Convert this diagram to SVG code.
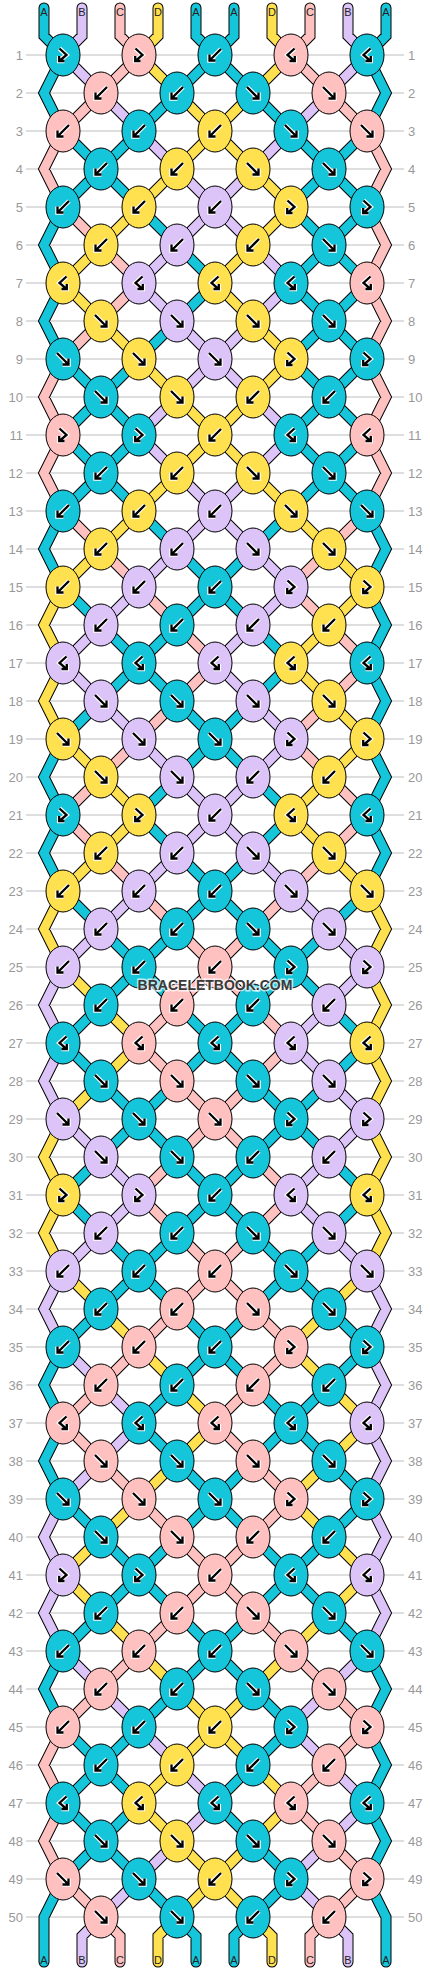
<svg xmlns="http://www.w3.org/2000/svg" xmlns:xlink="http://www.w3.org/1999/xlink" width="430" height="1972" viewBox="0 0 430 1972">
<style>
.k ellipse{stroke:#000;stroke-width:1}
.kT{fill:#15c5d9}.kP{fill:#ffc0c0}.kY{fill:#ffe150}.kL{fill:#dcc4f8}
.num{font-family:"Liberation Sans",Arial,sans-serif;font-size:13px;fill:#999}
.lab{font-family:"Liberation Sans",Arial,sans-serif;font-size:11px;fill:#222;text-anchor:middle}
.wm{font-family:"Liberation Sans",Arial,sans-serif;font-size:14px;font-weight:bold;fill:#3a3a3a;text-anchor:middle;stroke:#fff;stroke-width:3;stroke-opacity:0.7;paint-order:stroke}
</style>
<defs>
<g id="F" fill="none" stroke-linejoin="miter"><path d="M-6 -6L4.5 4.5M5.5 -0.5V5.5H-0.5" stroke="#fff" stroke-width="4.5"/><path d="M-6 -6L4.5 4.5M5.5 -0.5V5.5H-0.5" stroke="#000" stroke-width="2.3"/></g>
<g id="B" fill="none" stroke-linejoin="miter"><path d="M6 -6L-4.5 4.5M-5.5 -0.5V5.5H0.5" stroke="#fff" stroke-width="4.5"/><path d="M6 -6L-4.5 4.5M-5.5 -0.5V5.5H0.5" stroke="#000" stroke-width="2.3"/></g>
<g id="FB" fill="none" stroke-linejoin="miter"><path d="M-3.5 -6.5L3.5 0L-3 5.5M-3.8 1V6H1.5" stroke="#fff" stroke-width="4.5"/><path d="M-3.5 -6.5L3.5 0L-3 5.5M-3.8 1V6H1.5" stroke="#000" stroke-width="2.3"/></g>
<g id="BF" fill="none" stroke-linejoin="miter"><path d="M3.5 -6.5L-3.5 0L3 5.5M3.8 1V6H-1.5" stroke="#fff" stroke-width="4.5"/><path d="M3.5 -6.5L-3.5 0L3 5.5M3.8 1V6H-1.5" stroke="#000" stroke-width="2.3"/></g>
<path id="sT" d="M44 8V36L63 55M196 8V36L215 55M234 8V36L215 55M386 8V36L367 55M63 1879L44 1917V1962M177 1917L196 1936V1962M253 1917L234 1936V1962M367 1879L386 1917V1962
M63 55l-19 38l19 38M63 207l-19 38l19 38M63 283l-19 38l19 38M63 511l-19 38l19 38M63 739l-19 38l19 38M63 815l-19 38l19 38M63 1347l-19 38l19 38M63 1423l-19 38l19 38M63 1651l-19 38l19 38
M367 55l19 38l-19 38M367 511l19 38l-19 38M367 587l19 38l-19 38M367 663l19 38l-19 38M367 739l19 38l-19 38M367 815l19 38l-19 38M367 1651l19 38l-19 38M367 1727l19 38l-19 38M367 1803l19 38l-19 38
M215 55l-38 38M215 55l38 38
M177 93l-38 38M253 93l38 38
M63 131l38 38M139 131l-38 38M291 131l38 38M367 131l-38 38
M101 169l-38 38M101 169l38 38M329 169l-38 38M329 169l38 38
M139 207l38 38M291 207l38 38M367 207l-38 38
M177 245l38 38M329 245l-38 38M329 245l38 38
M215 283l-38 38M291 283l38 38M367 283l-38 38
M177 321l-38 38M329 321l-38 38M329 321l38 38
M63 359l38 38M139 359l-38 38M291 359l38 38M367 359l-38 38
M101 397l-38 38M101 397l38 38M329 397l-38 38M329 397l38 38
M63 435l38 38M139 435l-38 38M291 435l38 38M367 435l-38 38
M101 473l-38 38M101 473l38 38M329 473l-38 38M329 473l38 38
M139 511l38 38M291 511l-38 38
M177 549l38 38M253 549l-38 38
M63 587l38 38M215 587l-38 38M215 587l38 38
M101 625l38 38M177 625l-38 38M253 625l38 38
M139 663l-38 38M139 663l38 38M291 663l-38 38
M101 701l-38 38M177 701l38 38M253 701l-38 38
M215 739l-38 38M215 739l38 38
M177 777l-38 38M253 777l38 38
M139 815l38 38M291 815l-38 38
M177 853l38 38M253 853l-38 38
M63 891l38 38M215 891l-38 38M215 891l38 38M367 891l-38 38
M101 929l38 38M177 929l-38 38M253 929l38 38M329 929l-38 38
M139 967l-38 38M139 967l38 38M291 967l-38 38M291 967l38 38
M101 1005l-38 38M177 1005l38 38M253 1005l-38 38M329 1005l38 38
M63 1043l38 38M215 1043l-38 38M215 1043l38 38M367 1043l-38 38
M101 1081l38 38M177 1081l-38 38M253 1081l38 38M329 1081l-38 38
M139 1119l-38 38M139 1119l38 38M291 1119l-38 38M291 1119l38 38
M101 1157l-38 38M177 1157l38 38M253 1157l-38 38M329 1157l38 38
M63 1195l38 38M215 1195l-38 38M215 1195l38 38M367 1195l-38 38
M101 1233l38 38M177 1233l-38 38M253 1233l38 38M329 1233l-38 38
M139 1271l-38 38M139 1271l38 38M291 1271l-38 38M291 1271l38 38
M101 1309l-38 38M177 1309l38 38M253 1309l-38 38M329 1309l38 38
M215 1347l-38 38M215 1347l38 38M367 1347l-38 38
M177 1385l-38 38M253 1385l38 38M329 1385l-38 38
M139 1423l38 38M291 1423l-38 38M291 1423l38 38
M177 1461l38 38M253 1461l-38 38M329 1461l38 38
M63 1499l38 38M215 1499l-38 38M215 1499l38 38M367 1499l-38 38
M101 1537l38 38M177 1537l-38 38M253 1537l38 38M329 1537l-38 38
M139 1575l-38 38M139 1575l38 38M291 1575l-38 38M291 1575l38 38
M101 1613l-38 38M177 1613l38 38M253 1613l-38 38M329 1613l38 38
M215 1651l-38 38M215 1651l38 38
M177 1689l-38 38M253 1689l38 38
M63 1727l38 38M139 1727l-38 38M291 1727l-38 38
M101 1765l-38 38M101 1765l38 38M253 1765l-38 38
M63 1803l38 38M139 1803l-38 38M215 1803l38 38
M101 1841l-38 38M101 1841l38 38M253 1841l38 38
M139 1879l38 38M291 1879l-38 38"/>
<path id="sP" d="M120 8V36L139 55M310 8V36L291 55M101 1917L120 1936V1962M329 1917L310 1936V1962
M63 131l-19 38l19 38M63 359l-19 38l19 38M63 435l-19 38l19 38M63 1727l-19 38l19 38M63 1803l-19 38l19 38
M367 131l19 38l-19 38M367 207l19 38l-19 38M367 283l19 38l-19 38M367 359l19 38l-19 38M367 435l19 38l-19 38
M139 55l-38 38M291 55l38 38
M101 93l-38 38M329 93l38 38
M63 207l38 38
M101 245l38 38
M139 283l-38 38
M101 321l-38 38
M63 511l38 38M367 511l-38 38
M101 549l38 38M329 549l-38 38
M139 587l38 38M291 587l38 38
M177 625l38 38M329 625l38 38
M215 663l-38 38M367 663l-38 38
M177 701l-38 38M329 701l-38 38
M139 739l-38 38M291 739l38 38
M101 777l-38 38M329 777l38 38
M63 815l38 38M367 815l-38 38
M101 853l38 38M329 853l-38 38
M139 891l38 38M291 891l-38 38
M177 929l38 38M253 929l-38 38
M215 967l-38 38M215 967l38 38
M177 1005l-38 38M253 1005l38 38
M139 1043l38 38M291 1043l-38 38
M177 1081l38 38M253 1081l-38 38
M215 1119l-38 38M215 1119l38 38
M177 1157l-38 38M253 1157l38 38
M139 1195l38 38M291 1195l-38 38
M177 1233l38 38M253 1233l-38 38
M215 1271l-38 38M215 1271l38 38
M177 1309l-38 38M253 1309l38 38
M139 1347l-38 38M291 1347l-38 38
M101 1385l-38 38M253 1385l-38 38
M63 1423l38 38M215 1423l38 38
M101 1461l38 38M253 1461l38 38
M139 1499l38 38M291 1499l-38 38
M177 1537l38 38M253 1537l-38 38
M215 1575l-38 38M215 1575l38 38
M177 1613l-38 38M253 1613l38 38
M139 1651l-38 38M291 1651l38 38
M101 1689l-38 38M329 1689l38 38
M367 1727l-38 38
M329 1765l-38 38
M291 1803l38 38
M329 1841l38 38
M63 1879l38 38M367 1879l-38 38"/>
<path id="sY" d="M158 8V36L139 55M272 8V36L291 55M177 1917L158 1936V1962M253 1917L272 1936V1962
M63 587l-19 38l19 38M63 663l-19 38l19 38M63 891l-19 38l19 38M63 1119l-19 38l19 38M63 1195l-19 38l19 38
M367 891l19 38l-19 38M367 967l19 38l-19 38M367 1043l19 38l-19 38M367 1119l19 38l-19 38M367 1195l19 38l-19 38
M139 55l38 38M291 55l-38 38
M177 93l38 38M253 93l-38 38
M215 131l-38 38M215 131l38 38
M177 169l-38 38M253 169l38 38
M139 207l-38 38M291 207l-38 38
M101 245l-38 38M253 245l-38 38
M63 283l38 38M215 283l38 38
M101 321l38 38M253 321l38 38
M139 359l38 38M291 359l-38 38
M177 397l38 38M253 397l-38 38
M215 435l-38 38M215 435l38 38
M177 473l-38 38M253 473l38 38
M139 511l-38 38M291 511l38 38
M101 549l-38 38M329 549l38 38
M367 587l-38 38
M329 625l-38 38
M291 663l38 38
M329 701l38 38
M63 739l38 38M367 739l-38 38
M101 777l38 38M329 777l-38 38
M139 815l-38 38M291 815l38 38
M101 853l-38 38M329 853l38 38
M63 967l38 38
M101 1005l38 38
M139 1043l-38 38
M101 1081l-38 38
M63 1271l38 38M367 1271l-38 38
M101 1309l38 38M329 1309l-38 38
M139 1347l38 38M291 1347l38 38
M177 1385l38 38M329 1385l38 38
M215 1423l-38 38M367 1423l-38 38
M177 1461l-38 38M329 1461l-38 38
M139 1499l-38 38M291 1499l38 38
M101 1537l-38 38M329 1537l38 38
M63 1575l38 38M367 1575l-38 38
M101 1613l38 38M329 1613l-38 38
M139 1651l38 38M291 1651l-38 38
M177 1689l38 38M253 1689l-38 38
M215 1727l-38 38M215 1727l38 38
M177 1765l-38 38M253 1765l38 38
M139 1803l38 38M291 1803l-38 38
M177 1841l38 38M253 1841l-38 38
M215 1879l-38 38M215 1879l38 38"/>
<path id="sL" d="M82 8V36L63 55M348 8V36L367 55M101 1917L82 1936V1962M329 1917L348 1936V1962
M63 967l-19 38l19 38M63 1043l-19 38l19 38M63 1271l-19 38l19 38M63 1499l-19 38l19 38M63 1575l-19 38l19 38
M367 1271l19 38l-19 38M367 1347l19 38l-19 38M367 1423l19 38l-19 38M367 1499l19 38l-19 38M367 1575l19 38l-19 38
M63 55l38 38M367 55l-38 38
M101 93l38 38M329 93l-38 38
M139 131l38 38M291 131l-38 38
M177 169l38 38M253 169l-38 38
M215 207l-38 38M215 207l38 38
M177 245l-38 38M253 245l38 38
M139 283l38 38M291 283l-38 38
M177 321l38 38M253 321l-38 38
M215 359l-38 38M215 359l38 38
M177 397l-38 38M253 397l38 38
M139 435l38 38M291 435l-38 38
M177 473l38 38M253 473l-38 38
M215 511l-38 38M215 511l38 38
M177 549l-38 38M253 549l38 38
M139 587l-38 38M291 587l-38 38
M101 625l-38 38M253 625l-38 38
M63 663l38 38M215 663l38 38
M101 701l38 38M253 701l38 38
M139 739l38 38M291 739l-38 38
M177 777l38 38M253 777l-38 38
M215 815l-38 38M215 815l38 38
M177 853l-38 38M253 853l38 38
M139 891l-38 38M291 891l38 38
M101 929l-38 38M329 929l38 38
M367 967l-38 38
M329 1005l-38 38
M291 1043l38 38
M329 1081l38 38
M63 1119l38 38M367 1119l-38 38
M101 1157l38 38M329 1157l-38 38
M139 1195l-38 38M291 1195l38 38
M101 1233l-38 38M329 1233l38 38
M63 1347l38 38
M101 1385l38 38
M139 1423l-38 38
M101 1461l-38 38
M63 1651l38 38M367 1651l-38 38
M101 1689l38 38M329 1689l-38 38
M139 1727l38 38M291 1727l38 38
M177 1765l38 38M329 1765l38 38
M215 1803l-38 38M367 1803l-38 38
M177 1841l-38 38M329 1841l-38 38
M139 1879l-38 38M291 1879l38 38"/>
</defs>
<rect width="430" height="1972" fill="#fff"/>
<g id="rows">
<path fill="none" stroke="#bdbdbd" stroke-width="1.2" d="M26 55H404M26 93H404M26 131H404M26 169H404M26 207H404M26 245H404M26 283H404M26 321H404M26 359H404M26 397H404M26 435H404M26 473H404M26 511H404M26 549H404M26 587H404M26 625H404M26 663H404M26 701H404M26 739H404M26 777H404M26 815H404M26 853H404M26 891H404M26 929H404M26 967H404M26 1005H404M26 1043H404M26 1081H404M26 1119H404M26 1157H404M26 1195H404M26 1233H404M26 1271H404M26 1309H404M26 1347H404M26 1385H404M26 1423H404M26 1461H404M26 1499H404M26 1537H404M26 1575H404M26 1613H404M26 1651H404M26 1689H404M26 1727H404M26 1765H404M26 1803H404M26 1841H404M26 1879H404M26 1917H404"/>
<g class="num" text-anchor="end">
<text x="23" y="60">1</text><text x="23" y="98">2</text><text x="23" y="136">3</text><text x="23" y="174">4</text><text x="23" y="212">5</text><text x="23" y="250">6</text><text x="23" y="288">7</text><text x="23" y="326">8</text><text x="23" y="364">9</text><text x="23" y="402">10</text><text x="23" y="440">11</text><text x="23" y="478">12</text><text x="23" y="516">13</text><text x="23" y="554">14</text><text x="23" y="592">15</text><text x="23" y="630">16</text><text x="23" y="668">17</text><text x="23" y="706">18</text><text x="23" y="744">19</text><text x="23" y="782">20</text><text x="23" y="820">21</text><text x="23" y="858">22</text><text x="23" y="896">23</text><text x="23" y="934">24</text><text x="23" y="972">25</text><text x="23" y="1010">26</text><text x="23" y="1048">27</text><text x="23" y="1086">28</text><text x="23" y="1124">29</text><text x="23" y="1162">30</text><text x="23" y="1200">31</text><text x="23" y="1238">32</text><text x="23" y="1276">33</text><text x="23" y="1314">34</text><text x="23" y="1352">35</text><text x="23" y="1390">36</text><text x="23" y="1428">37</text><text x="23" y="1466">38</text><text x="23" y="1504">39</text><text x="23" y="1542">40</text><text x="23" y="1580">41</text><text x="23" y="1618">42</text><text x="23" y="1656">43</text><text x="23" y="1694">44</text><text x="23" y="1732">45</text><text x="23" y="1770">46</text><text x="23" y="1808">47</text><text x="23" y="1846">48</text><text x="23" y="1884">49</text><text x="23" y="1922">50</text>
</g>
<g class="num" text-anchor="start">
<text x="408" y="60">1</text><text x="408" y="98">2</text><text x="408" y="136">3</text><text x="408" y="174">4</text><text x="408" y="212">5</text><text x="408" y="250">6</text><text x="408" y="288">7</text><text x="408" y="326">8</text><text x="408" y="364">9</text><text x="408" y="402">10</text><text x="408" y="440">11</text><text x="408" y="478">12</text><text x="408" y="516">13</text><text x="408" y="554">14</text><text x="408" y="592">15</text><text x="408" y="630">16</text><text x="408" y="668">17</text><text x="408" y="706">18</text><text x="408" y="744">19</text><text x="408" y="782">20</text><text x="408" y="820">21</text><text x="408" y="858">22</text><text x="408" y="896">23</text><text x="408" y="934">24</text><text x="408" y="972">25</text><text x="408" y="1010">26</text><text x="408" y="1048">27</text><text x="408" y="1086">28</text><text x="408" y="1124">29</text><text x="408" y="1162">30</text><text x="408" y="1200">31</text><text x="408" y="1238">32</text><text x="408" y="1276">33</text><text x="408" y="1314">34</text><text x="408" y="1352">35</text><text x="408" y="1390">36</text><text x="408" y="1428">37</text><text x="408" y="1466">38</text><text x="408" y="1504">39</text><text x="408" y="1542">40</text><text x="408" y="1580">41</text><text x="408" y="1618">42</text><text x="408" y="1656">43</text><text x="408" y="1694">44</text><text x="408" y="1732">45</text><text x="408" y="1770">46</text><text x="408" y="1808">47</text><text x="408" y="1846">48</text><text x="408" y="1884">49</text><text x="408" y="1922">50</text>
</g>
</g>
<g id="connectors" fill="none" stroke-linecap="round" stroke-linejoin="miter">
<use href="#sT" stroke="#000" stroke-width="11"/><use href="#sP" stroke="#000" stroke-width="11"/><use href="#sY" stroke="#000" stroke-width="11"/><use href="#sL" stroke="#000" stroke-width="11"/>
<use href="#sT" stroke="#15c5d9" stroke-width="9"/><use href="#sP" stroke="#ffc0c0" stroke-width="9"/><use href="#sY" stroke="#ffe150" stroke-width="9"/><use href="#sL" stroke="#dcc4f8" stroke-width="9"/>
</g>
<g id="labels" class="lab">
<text x="44" y="16">A</text><text x="82" y="16">B</text><text x="120" y="16">C</text><text x="158" y="16">D</text><text x="196" y="16">A</text><text x="234" y="16">A</text><text x="272" y="16">D</text><text x="310" y="16">C</text><text x="348" y="16">B</text><text x="386" y="16">A</text>
<text x="44" y="1964">A</text><text x="82" y="1964">B</text><text x="120" y="1964">C</text><text x="158" y="1964">D</text><text x="196" y="1964">A</text><text x="234" y="1964">A</text><text x="272" y="1964">D</text><text x="310" y="1964">C</text><text x="348" y="1964">B</text><text x="386" y="1964">A</text>
</g>
<g id="knots">
<g id="k1-1" class="k kT" transform="translate(63 55)"><ellipse rx="17" ry="21"/><use href="#FB"/></g>
<g id="k1-2" class="k kP" transform="translate(139 55)"><ellipse rx="17" ry="21"/><use href="#FB"/></g>
<g id="k1-3" class="k kT" transform="translate(215 55)"><ellipse rx="17" ry="21"/><use href="#B"/></g>
<g id="k1-4" class="k kP" transform="translate(291 55)"><ellipse rx="17" ry="21"/><use href="#BF"/></g>
<g id="k1-5" class="k kT" transform="translate(367 55)"><ellipse rx="17" ry="21"/><use href="#BF"/></g>
<g id="k2-1" class="k kP" transform="translate(101 93)"><ellipse rx="17" ry="21"/><use href="#B"/></g>
<g id="k2-2" class="k kT" transform="translate(177 93)"><ellipse rx="17" ry="21"/><use href="#B"/></g>
<g id="k2-3" class="k kT" transform="translate(253 93)"><ellipse rx="17" ry="21"/><use href="#F"/></g>
<g id="k2-4" class="k kP" transform="translate(329 93)"><ellipse rx="17" ry="21"/><use href="#F"/></g>
<g id="k3-1" class="k kP" transform="translate(63 131)"><ellipse rx="17" ry="21"/><use href="#B"/></g>
<g id="k3-2" class="k kT" transform="translate(139 131)"><ellipse rx="17" ry="21"/><use href="#B"/></g>
<g id="k3-3" class="k kY" transform="translate(215 131)"><ellipse rx="17" ry="21"/><use href="#B"/></g>
<g id="k3-4" class="k kT" transform="translate(291 131)"><ellipse rx="17" ry="21"/><use href="#F"/></g>
<g id="k3-5" class="k kP" transform="translate(367 131)"><ellipse rx="17" ry="21"/><use href="#F"/></g>
<g id="k4-1" class="k kT" transform="translate(101 169)"><ellipse rx="17" ry="21"/><use href="#B"/></g>
<g id="k4-2" class="k kY" transform="translate(177 169)"><ellipse rx="17" ry="21"/><use href="#B"/></g>
<g id="k4-3" class="k kY" transform="translate(253 169)"><ellipse rx="17" ry="21"/><use href="#F"/></g>
<g id="k4-4" class="k kT" transform="translate(329 169)"><ellipse rx="17" ry="21"/><use href="#F"/></g>
<g id="k5-1" class="k kT" transform="translate(63 207)"><ellipse rx="17" ry="21"/><use href="#B"/></g>
<g id="k5-2" class="k kY" transform="translate(139 207)"><ellipse rx="17" ry="21"/><use href="#B"/></g>
<g id="k5-3" class="k kL" transform="translate(215 207)"><ellipse rx="17" ry="21"/><use href="#B"/></g>
<g id="k5-4" class="k kY" transform="translate(291 207)"><ellipse rx="17" ry="21"/><use href="#FB"/></g>
<g id="k5-5" class="k kT" transform="translate(367 207)"><ellipse rx="17" ry="21"/><use href="#FB"/></g>
<g id="k6-1" class="k kY" transform="translate(101 245)"><ellipse rx="17" ry="21"/><use href="#B"/></g>
<g id="k6-2" class="k kL" transform="translate(177 245)"><ellipse rx="17" ry="21"/><use href="#B"/></g>
<g id="k6-3" class="k kY" transform="translate(253 245)"><ellipse rx="17" ry="21"/><use href="#B"/></g>
<g id="k6-4" class="k kT" transform="translate(329 245)"><ellipse rx="17" ry="21"/><use href="#F"/></g>
<g id="k7-1" class="k kY" transform="translate(63 283)"><ellipse rx="17" ry="21"/><use href="#BF"/></g>
<g id="k7-2" class="k kL" transform="translate(139 283)"><ellipse rx="17" ry="21"/><use href="#BF"/></g>
<g id="k7-3" class="k kY" transform="translate(215 283)"><ellipse rx="17" ry="21"/><use href="#BF"/></g>
<g id="k7-4" class="k kT" transform="translate(291 283)"><ellipse rx="17" ry="21"/><use href="#BF"/></g>
<g id="k7-5" class="k kP" transform="translate(367 283)"><ellipse rx="17" ry="21"/><use href="#BF"/></g>
<g id="k8-1" class="k kY" transform="translate(101 321)"><ellipse rx="17" ry="21"/><use href="#F"/></g>
<g id="k8-2" class="k kL" transform="translate(177 321)"><ellipse rx="17" ry="21"/><use href="#F"/></g>
<g id="k8-3" class="k kY" transform="translate(253 321)"><ellipse rx="17" ry="21"/><use href="#F"/></g>
<g id="k8-4" class="k kT" transform="translate(329 321)"><ellipse rx="17" ry="21"/><use href="#F"/></g>
<g id="k9-1" class="k kT" transform="translate(63 359)"><ellipse rx="17" ry="21"/><use href="#F"/></g>
<g id="k9-2" class="k kY" transform="translate(139 359)"><ellipse rx="17" ry="21"/><use href="#F"/></g>
<g id="k9-3" class="k kL" transform="translate(215 359)"><ellipse rx="17" ry="21"/><use href="#F"/></g>
<g id="k9-4" class="k kY" transform="translate(291 359)"><ellipse rx="17" ry="21"/><use href="#FB"/></g>
<g id="k9-5" class="k kT" transform="translate(367 359)"><ellipse rx="17" ry="21"/><use href="#FB"/></g>
<g id="k10-1" class="k kT" transform="translate(101 397)"><ellipse rx="17" ry="21"/><use href="#F"/></g>
<g id="k10-2" class="k kY" transform="translate(177 397)"><ellipse rx="17" ry="21"/><use href="#F"/></g>
<g id="k10-3" class="k kY" transform="translate(253 397)"><ellipse rx="17" ry="21"/><use href="#B"/></g>
<g id="k10-4" class="k kT" transform="translate(329 397)"><ellipse rx="17" ry="21"/><use href="#B"/></g>
<g id="k11-1" class="k kP" transform="translate(63 435)"><ellipse rx="17" ry="21"/><use href="#FB"/></g>
<g id="k11-2" class="k kT" transform="translate(139 435)"><ellipse rx="17" ry="21"/><use href="#FB"/></g>
<g id="k11-3" class="k kY" transform="translate(215 435)"><ellipse rx="17" ry="21"/><use href="#B"/></g>
<g id="k11-4" class="k kT" transform="translate(291 435)"><ellipse rx="17" ry="21"/><use href="#BF"/></g>
<g id="k11-5" class="k kP" transform="translate(367 435)"><ellipse rx="17" ry="21"/><use href="#BF"/></g>
<g id="k12-1" class="k kT" transform="translate(101 473)"><ellipse rx="17" ry="21"/><use href="#B"/></g>
<g id="k12-2" class="k kY" transform="translate(177 473)"><ellipse rx="17" ry="21"/><use href="#B"/></g>
<g id="k12-3" class="k kY" transform="translate(253 473)"><ellipse rx="17" ry="21"/><use href="#F"/></g>
<g id="k12-4" class="k kT" transform="translate(329 473)"><ellipse rx="17" ry="21"/><use href="#F"/></g>
<g id="k13-1" class="k kT" transform="translate(63 511)"><ellipse rx="17" ry="21"/><use href="#B"/></g>
<g id="k13-2" class="k kY" transform="translate(139 511)"><ellipse rx="17" ry="21"/><use href="#B"/></g>
<g id="k13-3" class="k kL" transform="translate(215 511)"><ellipse rx="17" ry="21"/><use href="#B"/></g>
<g id="k13-4" class="k kY" transform="translate(291 511)"><ellipse rx="17" ry="21"/><use href="#F"/></g>
<g id="k13-5" class="k kT" transform="translate(367 511)"><ellipse rx="17" ry="21"/><use href="#F"/></g>
<g id="k14-1" class="k kY" transform="translate(101 549)"><ellipse rx="17" ry="21"/><use href="#B"/></g>
<g id="k14-2" class="k kL" transform="translate(177 549)"><ellipse rx="17" ry="21"/><use href="#B"/></g>
<g id="k14-3" class="k kL" transform="translate(253 549)"><ellipse rx="17" ry="21"/><use href="#F"/></g>
<g id="k14-4" class="k kY" transform="translate(329 549)"><ellipse rx="17" ry="21"/><use href="#F"/></g>
<g id="k15-1" class="k kY" transform="translate(63 587)"><ellipse rx="17" ry="21"/><use href="#B"/></g>
<g id="k15-2" class="k kL" transform="translate(139 587)"><ellipse rx="17" ry="21"/><use href="#B"/></g>
<g id="k15-3" class="k kT" transform="translate(215 587)"><ellipse rx="17" ry="21"/><use href="#B"/></g>
<g id="k15-4" class="k kL" transform="translate(291 587)"><ellipse rx="17" ry="21"/><use href="#FB"/></g>
<g id="k15-5" class="k kY" transform="translate(367 587)"><ellipse rx="17" ry="21"/><use href="#FB"/></g>
<g id="k16-1" class="k kL" transform="translate(101 625)"><ellipse rx="17" ry="21"/><use href="#B"/></g>
<g id="k16-2" class="k kT" transform="translate(177 625)"><ellipse rx="17" ry="21"/><use href="#B"/></g>
<g id="k16-3" class="k kL" transform="translate(253 625)"><ellipse rx="17" ry="21"/><use href="#B"/></g>
<g id="k16-4" class="k kY" transform="translate(329 625)"><ellipse rx="17" ry="21"/><use href="#B"/></g>
<g id="k17-1" class="k kL" transform="translate(63 663)"><ellipse rx="17" ry="21"/><use href="#BF"/></g>
<g id="k17-2" class="k kT" transform="translate(139 663)"><ellipse rx="17" ry="21"/><use href="#BF"/></g>
<g id="k17-3" class="k kL" transform="translate(215 663)"><ellipse rx="17" ry="21"/><use href="#BF"/></g>
<g id="k17-4" class="k kY" transform="translate(291 663)"><ellipse rx="17" ry="21"/><use href="#BF"/></g>
<g id="k17-5" class="k kT" transform="translate(367 663)"><ellipse rx="17" ry="21"/><use href="#BF"/></g>
<g id="k18-1" class="k kL" transform="translate(101 701)"><ellipse rx="17" ry="21"/><use href="#F"/></g>
<g id="k18-2" class="k kT" transform="translate(177 701)"><ellipse rx="17" ry="21"/><use href="#F"/></g>
<g id="k18-3" class="k kL" transform="translate(253 701)"><ellipse rx="17" ry="21"/><use href="#F"/></g>
<g id="k18-4" class="k kY" transform="translate(329 701)"><ellipse rx="17" ry="21"/><use href="#F"/></g>
<g id="k19-1" class="k kY" transform="translate(63 739)"><ellipse rx="17" ry="21"/><use href="#F"/></g>
<g id="k19-2" class="k kL" transform="translate(139 739)"><ellipse rx="17" ry="21"/><use href="#F"/></g>
<g id="k19-3" class="k kT" transform="translate(215 739)"><ellipse rx="17" ry="21"/><use href="#F"/></g>
<g id="k19-4" class="k kL" transform="translate(291 739)"><ellipse rx="17" ry="21"/><use href="#FB"/></g>
<g id="k19-5" class="k kY" transform="translate(367 739)"><ellipse rx="17" ry="21"/><use href="#FB"/></g>
<g id="k20-1" class="k kY" transform="translate(101 777)"><ellipse rx="17" ry="21"/><use href="#F"/></g>
<g id="k20-2" class="k kL" transform="translate(177 777)"><ellipse rx="17" ry="21"/><use href="#F"/></g>
<g id="k20-3" class="k kL" transform="translate(253 777)"><ellipse rx="17" ry="21"/><use href="#B"/></g>
<g id="k20-4" class="k kY" transform="translate(329 777)"><ellipse rx="17" ry="21"/><use href="#B"/></g>
<g id="k21-1" class="k kT" transform="translate(63 815)"><ellipse rx="17" ry="21"/><use href="#FB"/></g>
<g id="k21-2" class="k kY" transform="translate(139 815)"><ellipse rx="17" ry="21"/><use href="#FB"/></g>
<g id="k21-3" class="k kL" transform="translate(215 815)"><ellipse rx="17" ry="21"/><use href="#B"/></g>
<g id="k21-4" class="k kY" transform="translate(291 815)"><ellipse rx="17" ry="21"/><use href="#BF"/></g>
<g id="k21-5" class="k kT" transform="translate(367 815)"><ellipse rx="17" ry="21"/><use href="#BF"/></g>
<g id="k22-1" class="k kY" transform="translate(101 853)"><ellipse rx="17" ry="21"/><use href="#B"/></g>
<g id="k22-2" class="k kL" transform="translate(177 853)"><ellipse rx="17" ry="21"/><use href="#B"/></g>
<g id="k22-3" class="k kL" transform="translate(253 853)"><ellipse rx="17" ry="21"/><use href="#F"/></g>
<g id="k22-4" class="k kY" transform="translate(329 853)"><ellipse rx="17" ry="21"/><use href="#F"/></g>
<g id="k23-1" class="k kY" transform="translate(63 891)"><ellipse rx="17" ry="21"/><use href="#B"/></g>
<g id="k23-2" class="k kL" transform="translate(139 891)"><ellipse rx="17" ry="21"/><use href="#B"/></g>
<g id="k23-3" class="k kT" transform="translate(215 891)"><ellipse rx="17" ry="21"/><use href="#B"/></g>
<g id="k23-4" class="k kL" transform="translate(291 891)"><ellipse rx="17" ry="21"/><use href="#F"/></g>
<g id="k23-5" class="k kY" transform="translate(367 891)"><ellipse rx="17" ry="21"/><use href="#F"/></g>
<g id="k24-1" class="k kL" transform="translate(101 929)"><ellipse rx="17" ry="21"/><use href="#B"/></g>
<g id="k24-2" class="k kT" transform="translate(177 929)"><ellipse rx="17" ry="21"/><use href="#B"/></g>
<g id="k24-3" class="k kT" transform="translate(253 929)"><ellipse rx="17" ry="21"/><use href="#F"/></g>
<g id="k24-4" class="k kL" transform="translate(329 929)"><ellipse rx="17" ry="21"/><use href="#F"/></g>
<g id="k25-1" class="k kL" transform="translate(63 967)"><ellipse rx="17" ry="21"/><use href="#B"/></g>
<g id="k25-2" class="k kT" transform="translate(139 967)"><ellipse rx="17" ry="21"/><use href="#B"/></g>
<g id="k25-3" class="k kP" transform="translate(215 967)"><ellipse rx="17" ry="21"/><use href="#B"/></g>
<g id="k25-4" class="k kT" transform="translate(291 967)"><ellipse rx="17" ry="21"/><use href="#FB"/></g>
<g id="k25-5" class="k kL" transform="translate(367 967)"><ellipse rx="17" ry="21"/><use href="#FB"/></g>
<g id="k26-1" class="k kT" transform="translate(101 1005)"><ellipse rx="17" ry="21"/><use href="#B"/></g>
<g id="k26-2" class="k kP" transform="translate(177 1005)"><ellipse rx="17" ry="21"/><use href="#B"/></g>
<g id="k26-3" class="k kT" transform="translate(253 1005)"><ellipse rx="17" ry="21"/><use href="#B"/></g>
<g id="k26-4" class="k kL" transform="translate(329 1005)"><ellipse rx="17" ry="21"/><use href="#B"/></g>
<g id="k27-1" class="k kT" transform="translate(63 1043)"><ellipse rx="17" ry="21"/><use href="#BF"/></g>
<g id="k27-2" class="k kP" transform="translate(139 1043)"><ellipse rx="17" ry="21"/><use href="#BF"/></g>
<g id="k27-3" class="k kT" transform="translate(215 1043)"><ellipse rx="17" ry="21"/><use href="#BF"/></g>
<g id="k27-4" class="k kL" transform="translate(291 1043)"><ellipse rx="17" ry="21"/><use href="#BF"/></g>
<g id="k27-5" class="k kY" transform="translate(367 1043)"><ellipse rx="17" ry="21"/><use href="#BF"/></g>
<g id="k28-1" class="k kT" transform="translate(101 1081)"><ellipse rx="17" ry="21"/><use href="#F"/></g>
<g id="k28-2" class="k kP" transform="translate(177 1081)"><ellipse rx="17" ry="21"/><use href="#F"/></g>
<g id="k28-3" class="k kT" transform="translate(253 1081)"><ellipse rx="17" ry="21"/><use href="#F"/></g>
<g id="k28-4" class="k kL" transform="translate(329 1081)"><ellipse rx="17" ry="21"/><use href="#F"/></g>
<g id="k29-1" class="k kL" transform="translate(63 1119)"><ellipse rx="17" ry="21"/><use href="#F"/></g>
<g id="k29-2" class="k kT" transform="translate(139 1119)"><ellipse rx="17" ry="21"/><use href="#F"/></g>
<g id="k29-3" class="k kP" transform="translate(215 1119)"><ellipse rx="17" ry="21"/><use href="#F"/></g>
<g id="k29-4" class="k kT" transform="translate(291 1119)"><ellipse rx="17" ry="21"/><use href="#FB"/></g>
<g id="k29-5" class="k kL" transform="translate(367 1119)"><ellipse rx="17" ry="21"/><use href="#FB"/></g>
<g id="k30-1" class="k kL" transform="translate(101 1157)"><ellipse rx="17" ry="21"/><use href="#F"/></g>
<g id="k30-2" class="k kT" transform="translate(177 1157)"><ellipse rx="17" ry="21"/><use href="#F"/></g>
<g id="k30-3" class="k kT" transform="translate(253 1157)"><ellipse rx="17" ry="21"/><use href="#B"/></g>
<g id="k30-4" class="k kL" transform="translate(329 1157)"><ellipse rx="17" ry="21"/><use href="#B"/></g>
<g id="k31-1" class="k kY" transform="translate(63 1195)"><ellipse rx="17" ry="21"/><use href="#FB"/></g>
<g id="k31-2" class="k kL" transform="translate(139 1195)"><ellipse rx="17" ry="21"/><use href="#FB"/></g>
<g id="k31-3" class="k kT" transform="translate(215 1195)"><ellipse rx="17" ry="21"/><use href="#B"/></g>
<g id="k31-4" class="k kL" transform="translate(291 1195)"><ellipse rx="17" ry="21"/><use href="#BF"/></g>
<g id="k31-5" class="k kY" transform="translate(367 1195)"><ellipse rx="17" ry="21"/><use href="#BF"/></g>
<g id="k32-1" class="k kL" transform="translate(101 1233)"><ellipse rx="17" ry="21"/><use href="#B"/></g>
<g id="k32-2" class="k kT" transform="translate(177 1233)"><ellipse rx="17" ry="21"/><use href="#B"/></g>
<g id="k32-3" class="k kT" transform="translate(253 1233)"><ellipse rx="17" ry="21"/><use href="#F"/></g>
<g id="k32-4" class="k kL" transform="translate(329 1233)"><ellipse rx="17" ry="21"/><use href="#F"/></g>
<g id="k33-1" class="k kL" transform="translate(63 1271)"><ellipse rx="17" ry="21"/><use href="#B"/></g>
<g id="k33-2" class="k kT" transform="translate(139 1271)"><ellipse rx="17" ry="21"/><use href="#B"/></g>
<g id="k33-3" class="k kP" transform="translate(215 1271)"><ellipse rx="17" ry="21"/><use href="#B"/></g>
<g id="k33-4" class="k kT" transform="translate(291 1271)"><ellipse rx="17" ry="21"/><use href="#F"/></g>
<g id="k33-5" class="k kL" transform="translate(367 1271)"><ellipse rx="17" ry="21"/><use href="#F"/></g>
<g id="k34-1" class="k kT" transform="translate(101 1309)"><ellipse rx="17" ry="21"/><use href="#B"/></g>
<g id="k34-2" class="k kP" transform="translate(177 1309)"><ellipse rx="17" ry="21"/><use href="#B"/></g>
<g id="k34-3" class="k kP" transform="translate(253 1309)"><ellipse rx="17" ry="21"/><use href="#F"/></g>
<g id="k34-4" class="k kT" transform="translate(329 1309)"><ellipse rx="17" ry="21"/><use href="#F"/></g>
<g id="k35-1" class="k kT" transform="translate(63 1347)"><ellipse rx="17" ry="21"/><use href="#B"/></g>
<g id="k35-2" class="k kP" transform="translate(139 1347)"><ellipse rx="17" ry="21"/><use href="#B"/></g>
<g id="k35-3" class="k kT" transform="translate(215 1347)"><ellipse rx="17" ry="21"/><use href="#B"/></g>
<g id="k35-4" class="k kP" transform="translate(291 1347)"><ellipse rx="17" ry="21"/><use href="#FB"/></g>
<g id="k35-5" class="k kT" transform="translate(367 1347)"><ellipse rx="17" ry="21"/><use href="#FB"/></g>
<g id="k36-1" class="k kP" transform="translate(101 1385)"><ellipse rx="17" ry="21"/><use href="#B"/></g>
<g id="k36-2" class="k kT" transform="translate(177 1385)"><ellipse rx="17" ry="21"/><use href="#B"/></g>
<g id="k36-3" class="k kP" transform="translate(253 1385)"><ellipse rx="17" ry="21"/><use href="#B"/></g>
<g id="k36-4" class="k kT" transform="translate(329 1385)"><ellipse rx="17" ry="21"/><use href="#B"/></g>
<g id="k37-1" class="k kP" transform="translate(63 1423)"><ellipse rx="17" ry="21"/><use href="#BF"/></g>
<g id="k37-2" class="k kT" transform="translate(139 1423)"><ellipse rx="17" ry="21"/><use href="#BF"/></g>
<g id="k37-3" class="k kP" transform="translate(215 1423)"><ellipse rx="17" ry="21"/><use href="#BF"/></g>
<g id="k37-4" class="k kT" transform="translate(291 1423)"><ellipse rx="17" ry="21"/><use href="#BF"/></g>
<g id="k37-5" class="k kL" transform="translate(367 1423)"><ellipse rx="17" ry="21"/><use href="#BF"/></g>
<g id="k38-1" class="k kP" transform="translate(101 1461)"><ellipse rx="17" ry="21"/><use href="#F"/></g>
<g id="k38-2" class="k kT" transform="translate(177 1461)"><ellipse rx="17" ry="21"/><use href="#F"/></g>
<g id="k38-3" class="k kP" transform="translate(253 1461)"><ellipse rx="17" ry="21"/><use href="#F"/></g>
<g id="k38-4" class="k kT" transform="translate(329 1461)"><ellipse rx="17" ry="21"/><use href="#F"/></g>
<g id="k39-1" class="k kT" transform="translate(63 1499)"><ellipse rx="17" ry="21"/><use href="#F"/></g>
<g id="k39-2" class="k kP" transform="translate(139 1499)"><ellipse rx="17" ry="21"/><use href="#F"/></g>
<g id="k39-3" class="k kT" transform="translate(215 1499)"><ellipse rx="17" ry="21"/><use href="#F"/></g>
<g id="k39-4" class="k kP" transform="translate(291 1499)"><ellipse rx="17" ry="21"/><use href="#FB"/></g>
<g id="k39-5" class="k kT" transform="translate(367 1499)"><ellipse rx="17" ry="21"/><use href="#FB"/></g>
<g id="k40-1" class="k kT" transform="translate(101 1537)"><ellipse rx="17" ry="21"/><use href="#F"/></g>
<g id="k40-2" class="k kP" transform="translate(177 1537)"><ellipse rx="17" ry="21"/><use href="#F"/></g>
<g id="k40-3" class="k kP" transform="translate(253 1537)"><ellipse rx="17" ry="21"/><use href="#B"/></g>
<g id="k40-4" class="k kT" transform="translate(329 1537)"><ellipse rx="17" ry="21"/><use href="#B"/></g>
<g id="k41-1" class="k kL" transform="translate(63 1575)"><ellipse rx="17" ry="21"/><use href="#FB"/></g>
<g id="k41-2" class="k kT" transform="translate(139 1575)"><ellipse rx="17" ry="21"/><use href="#FB"/></g>
<g id="k41-3" class="k kP" transform="translate(215 1575)"><ellipse rx="17" ry="21"/><use href="#B"/></g>
<g id="k41-4" class="k kT" transform="translate(291 1575)"><ellipse rx="17" ry="21"/><use href="#BF"/></g>
<g id="k41-5" class="k kL" transform="translate(367 1575)"><ellipse rx="17" ry="21"/><use href="#BF"/></g>
<g id="k42-1" class="k kT" transform="translate(101 1613)"><ellipse rx="17" ry="21"/><use href="#B"/></g>
<g id="k42-2" class="k kP" transform="translate(177 1613)"><ellipse rx="17" ry="21"/><use href="#B"/></g>
<g id="k42-3" class="k kP" transform="translate(253 1613)"><ellipse rx="17" ry="21"/><use href="#F"/></g>
<g id="k42-4" class="k kT" transform="translate(329 1613)"><ellipse rx="17" ry="21"/><use href="#F"/></g>
<g id="k43-1" class="k kT" transform="translate(63 1651)"><ellipse rx="17" ry="21"/><use href="#B"/></g>
<g id="k43-2" class="k kP" transform="translate(139 1651)"><ellipse rx="17" ry="21"/><use href="#B"/></g>
<g id="k43-3" class="k kT" transform="translate(215 1651)"><ellipse rx="17" ry="21"/><use href="#B"/></g>
<g id="k43-4" class="k kP" transform="translate(291 1651)"><ellipse rx="17" ry="21"/><use href="#F"/></g>
<g id="k43-5" class="k kT" transform="translate(367 1651)"><ellipse rx="17" ry="21"/><use href="#F"/></g>
<g id="k44-1" class="k kP" transform="translate(101 1689)"><ellipse rx="17" ry="21"/><use href="#B"/></g>
<g id="k44-2" class="k kT" transform="translate(177 1689)"><ellipse rx="17" ry="21"/><use href="#B"/></g>
<g id="k44-3" class="k kT" transform="translate(253 1689)"><ellipse rx="17" ry="21"/><use href="#F"/></g>
<g id="k44-4" class="k kP" transform="translate(329 1689)"><ellipse rx="17" ry="21"/><use href="#F"/></g>
<g id="k45-1" class="k kP" transform="translate(63 1727)"><ellipse rx="17" ry="21"/><use href="#B"/></g>
<g id="k45-2" class="k kT" transform="translate(139 1727)"><ellipse rx="17" ry="21"/><use href="#B"/></g>
<g id="k45-3" class="k kY" transform="translate(215 1727)"><ellipse rx="17" ry="21"/><use href="#B"/></g>
<g id="k45-4" class="k kT" transform="translate(291 1727)"><ellipse rx="17" ry="21"/><use href="#FB"/></g>
<g id="k45-5" class="k kP" transform="translate(367 1727)"><ellipse rx="17" ry="21"/><use href="#FB"/></g>
<g id="k46-1" class="k kT" transform="translate(101 1765)"><ellipse rx="17" ry="21"/><use href="#B"/></g>
<g id="k46-2" class="k kY" transform="translate(177 1765)"><ellipse rx="17" ry="21"/><use href="#B"/></g>
<g id="k46-3" class="k kT" transform="translate(253 1765)"><ellipse rx="17" ry="21"/><use href="#B"/></g>
<g id="k46-4" class="k kP" transform="translate(329 1765)"><ellipse rx="17" ry="21"/><use href="#B"/></g>
<g id="k47-1" class="k kT" transform="translate(63 1803)"><ellipse rx="17" ry="21"/><use href="#BF"/></g>
<g id="k47-2" class="k kY" transform="translate(139 1803)"><ellipse rx="17" ry="21"/><use href="#BF"/></g>
<g id="k47-3" class="k kT" transform="translate(215 1803)"><ellipse rx="17" ry="21"/><use href="#BF"/></g>
<g id="k47-4" class="k kP" transform="translate(291 1803)"><ellipse rx="17" ry="21"/><use href="#BF"/></g>
<g id="k47-5" class="k kT" transform="translate(367 1803)"><ellipse rx="17" ry="21"/><use href="#BF"/></g>
<g id="k48-1" class="k kT" transform="translate(101 1841)"><ellipse rx="17" ry="21"/><use href="#F"/></g>
<g id="k48-2" class="k kY" transform="translate(177 1841)"><ellipse rx="17" ry="21"/><use href="#F"/></g>
<g id="k48-3" class="k kT" transform="translate(253 1841)"><ellipse rx="17" ry="21"/><use href="#F"/></g>
<g id="k48-4" class="k kP" transform="translate(329 1841)"><ellipse rx="17" ry="21"/><use href="#F"/></g>
<g id="k49-1" class="k kP" transform="translate(63 1879)"><ellipse rx="17" ry="21"/><use href="#F"/></g>
<g id="k49-2" class="k kT" transform="translate(139 1879)"><ellipse rx="17" ry="21"/><use href="#F"/></g>
<g id="k49-3" class="k kY" transform="translate(215 1879)"><ellipse rx="17" ry="21"/><use href="#B"/></g>
<g id="k49-4" class="k kT" transform="translate(291 1879)"><ellipse rx="17" ry="21"/><use href="#FB"/></g>
<g id="k49-5" class="k kP" transform="translate(367 1879)"><ellipse rx="17" ry="21"/><use href="#FB"/></g>
<g id="k50-1" class="k kP" transform="translate(101 1917)"><ellipse rx="17" ry="21"/><use href="#F"/></g>
<g id="k50-2" class="k kT" transform="translate(177 1917)"><ellipse rx="17" ry="21"/><use href="#F"/></g>
<g id="k50-3" class="k kT" transform="translate(253 1917)"><ellipse rx="17" ry="21"/><use href="#B"/></g>
<g id="k50-4" class="k kP" transform="translate(329 1917)"><ellipse rx="17" ry="21"/><use href="#B"/></g>
</g>
<text class="wm" x="215" y="990">BRACELETBOOK.COM</text>
</svg>
